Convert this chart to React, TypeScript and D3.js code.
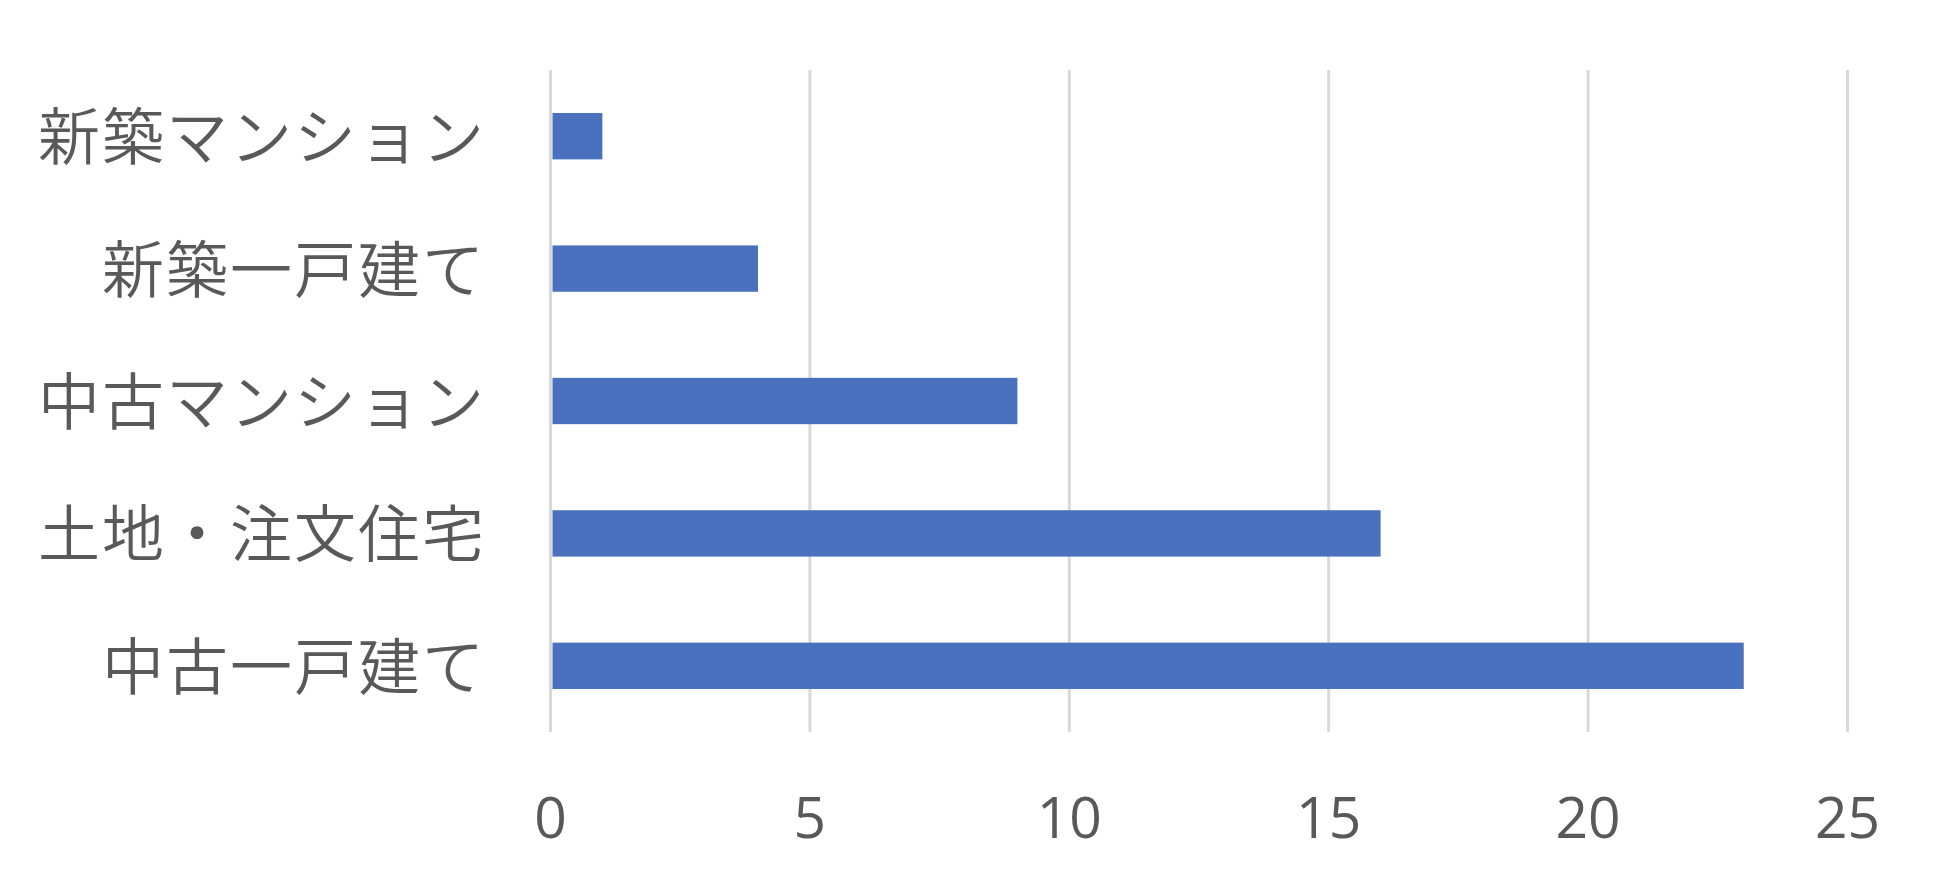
import React from "react";
import * as d3 from "d3";

const categories = ["新築マンション", "新築一戸建て", "中古マンション", "土地・注文住宅", "中古一戸建て"];
const values = [1, 4, 9, 16, 23];
const ticks = [0, 5, 10, 15, 20, 25];

const W = 1950;
const H = 886;
const plotLeft = 550.5;
const plotRight = 1847.5;
const plotTop = 70;
const plotBottom = 732;

export default function App() {
  const x = d3.scaleLinear().domain([0, 25]).range([plotLeft, plotRight]);
  const y = d3.scaleBand<string>().domain(categories).range([plotTop, plotBottom]).paddingInner(0.65).paddingOuter(0.325);
  const textColor = "#595959";
  const font = "'Noto Sans CJK JP', 'Noto Sans', sans-serif";
  return (
    <svg width={W} height={H} style={{ position: "absolute", left: 0, top: 0, background: "#fff" }}>
      {ticks.map((t) => (
        <line key={"g" + t} x1={x(t)} x2={x(t)} y1={plotTop} y2={plotBottom} stroke="#d9d9d9" strokeWidth={3} />
      ))}
      {categories.map((c, i) => (
        <rect key={c} x={x(0) + 2} y={y(c)!} width={x(values[i]) - x(0) - 2} height={y.bandwidth()} fill="#4a71bd" />
      ))}
      {categories.map((c) => (
        <text key={"l" + c} x={486} y={y(c)! + y.bandwidth() / 2 - 3} textAnchor="end" dominantBaseline="central"
          fontFamily={font} fontSize={62} fontWeight={350} letterSpacing={2} fill={textColor}>
          {c}
        </text>
      ))}
      {ticks.map((t) => (
        <text key={"t" + t} x={x(t)} y={816} textAnchor="middle" dominantBaseline="central"
          fontFamily="'Open Sans', 'Noto Sans', sans-serif" fontSize={57} fill={textColor}>
          {t}
        </text>
      ))}
    </svg>
  );
}
